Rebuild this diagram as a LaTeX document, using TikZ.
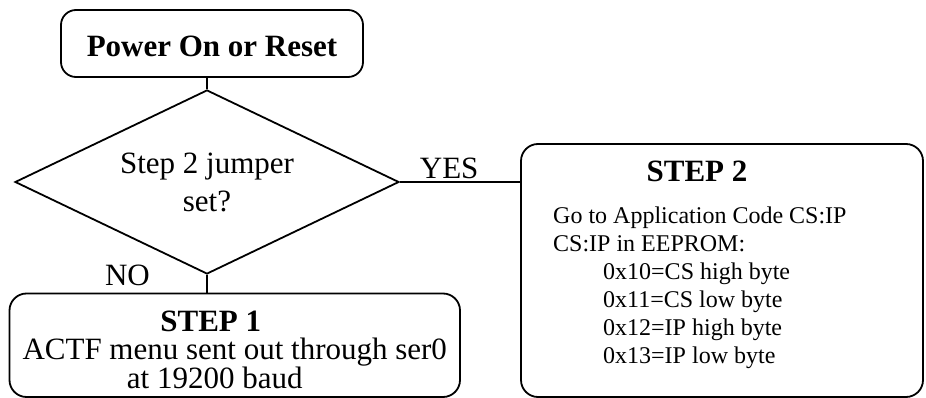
\documentclass[tikz,border=0pt]{standalone}
\usepackage{fontspec}
\setmainfont{Liberation Serif}
\usetikzlibrary{shapes.geometric,positioning}
\tikzset{
  blk/.style ={rectangle, rounded corners=17pt, draw=black, line width=1.8pt,
               align=center, inner sep=0pt, font=\fontsize{31}{28.5}\selectfont},
  dec/.style ={diamond, aspect=2.1, draw=black, line width=1.8pt, inner sep=0pt,
               minimum width=384pt, minimum height=184pt, align=center,
               font=\fontsize{31}{38}\selectfont},
  lbl/.style ={inner sep=0pt, font=\fontsize{31}{31}\selectfont},
  ttl/.style ={inner sep=0pt, font=\fontsize{31}{31}\selectfont\bfseries},
  txt/.style ={inner sep=0pt, align=left, font=\fontsize{24}{28}\selectfont},
  ln/.style  ={line width=1.8pt}
}

\begin{document}
\begin{tikzpicture}[x=1pt,y=-1pt]
\useasboundingbox (0,0) rectangle (926,398);
\node[blk, rounded corners=15pt, minimum width=302pt, minimum height=67pt,
      text height=27pt, font=\fontsize{31}{31}\selectfont\bfseries]
  (pwr) at (212,43.5) {Power On or Reset};
\node[dec] (jmp) at (207,182) {Step 2 jumper\\set?};
\node[blk, minimum width=450.5pt, minimum height=103.5pt] (s1) at (234.75,345.25)
  {\rule{0pt}{29pt}\textbf{STEP 1}\hspace*{48pt}\\ACTF menu sent out through ser0\\at 19200 baud\hspace*{40pt}};
\node[blk, minimum width=402pt, minimum height=253pt] (s2) at (722,270.5) {};
\node[ttl, anchor=base] (s2t) at (697,182) {STEP 2};
\node[txt, anchor=north west] (s2b) at (553,207)
  {Go to Application Code CS:IP\\CS:IP in EEPROM:\\
   \hspace*{50pt}0x10=CS high byte\\\hspace*{50pt}0x11=CS low byte\\
   \hspace*{50pt}0x12=IP high byte\\\hspace*{50pt}0x13=IP low byte};
\node[lbl, anchor=base] (no) at (127.5,285) {NO};
% connectors
\draw[ln] (jmp.north |- pwr.south) -- (jmp.north);
\draw[ln] (jmp.south) -- (jmp.south |- s1.north);
\draw[ln] (jmp.east) -- node[lbl, above=2pt, pos=0.41] (yes) {YES} (jmp.east -| s2.west);
\end{tikzpicture}
\end{document}
